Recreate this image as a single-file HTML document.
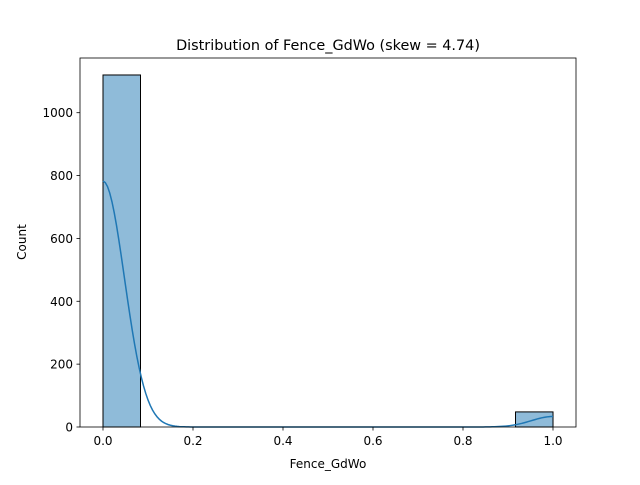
<!DOCTYPE html>
<html><head><meta charset="utf-8"><style>
body{margin:0;background:#fff}
svg text{font-family:"DejaVu Sans","Liberation Sans",sans-serif;fill:#000}
</style></head><body>
<svg id="chart" width="640" height="480">
<rect width="640" height="480" fill="#fff"/>
<text x="328" y="50" font-size="14.4" text-anchor="middle">Distribution of Fence_GdWo (skew = 4.74)</text>
<g id="bars"></g>
<path id="kde" fill="none" stroke="#1f77b4" stroke-width="1.5"/>
<g id="axes"></g>
<rect x="80" y="58" width="496" height="369" fill="none" stroke="#000" stroke-width="0.8"/>
<text x="328" y="468" font-size="12" text-anchor="middle">Fence_GdWo</text>
<text x="26" y="242" font-size="12" text-anchor="middle" transform="rotate(-90 26 242)">Count</text>
</svg>
<script>
const binEdgesStart = [0, 0.9167];
const binCounts = [1120, 48];
const dataValues = [0, 1];
const binWidth = 1/12;
const bandwidth = 0.0476;
const xTicks = [0, 0.2, 0.4, 0.6, 0.8, 1.0];
const xTickLabels = ["0.0","0.2","0.4","0.6","0.8","1.0"];
const yTicks = [0, 200, 400, 600, 800, 1000];

const X = v => 103 + v*450;
const Y = v => 427 - v*0.3143;
const NS = "http://www.w3.org/2000/svg";
const bars = document.getElementById('bars');
binEdgesStart.forEach((s,i)=>{
  const r = document.createElementNS(NS,'rect');
  r.setAttribute('x', X(s)); r.setAttribute('y', Y(binCounts[i]));
  r.setAttribute('width', X(s+binWidth)-X(s)); r.setAttribute('height', Y(0)-Y(binCounts[i]));
  r.setAttribute('fill','rgba(31,119,180,0.5)'); r.setAttribute('stroke','#000'); r.setAttribute('stroke-width','1');
  
  
  bars.appendChild(r);
});
// KDE computed from data
let d = '';
const N = 200;
for (let k=0;k<=N;k++){
  const x = k/N;
  let v = 0;
  dataValues.forEach((dv,i)=>{
    v += binCounts[i]*binWidth*Math.exp(-((x-dv)**2)/(2*bandwidth*bandwidth))/(bandwidth*Math.sqrt(2*Math.PI));
  });
  d += (k?'L':'M') + X(x).toFixed(2) + ' ' + Y(v).toFixed(2);
}
document.getElementById('kde').setAttribute('d', d);
const axes = document.getElementById('axes');
xTicks.forEach((t,i)=>{
  const l = document.createElementNS(NS,'line');
  l.setAttribute('x1',X(t));l.setAttribute('x2',X(t));l.setAttribute('y1',427);l.setAttribute('y2',430.5);
  l.setAttribute('stroke','#000');l.setAttribute('stroke-width','0.8');
  
  
  axes.appendChild(l);
  const tx = document.createElementNS(NS,'text');
  tx.setAttribute('x',X(t));tx.setAttribute('y',445);tx.setAttribute('font-size','12');tx.setAttribute('text-anchor','middle');
  tx.textContent = xTickLabels[i];
  
  
  axes.appendChild(tx);
});
yTicks.forEach(t=>{
  const l = document.createElementNS(NS,'line');
  l.setAttribute('x1',76.5);l.setAttribute('x2',80);l.setAttribute('y1',Y(t));l.setAttribute('y2',Y(t));
  l.setAttribute('stroke','#000');l.setAttribute('stroke-width','0.8');
  
  
  axes.appendChild(l);
  const tx = document.createElementNS(NS,'text');
  tx.setAttribute('x',73);tx.setAttribute('y',Y(t)+4.5);tx.setAttribute('font-size','12');tx.setAttribute('text-anchor','end');
  tx.textContent = String(t);
  
  
  axes.appendChild(tx);
});
</script>
</body></html>
